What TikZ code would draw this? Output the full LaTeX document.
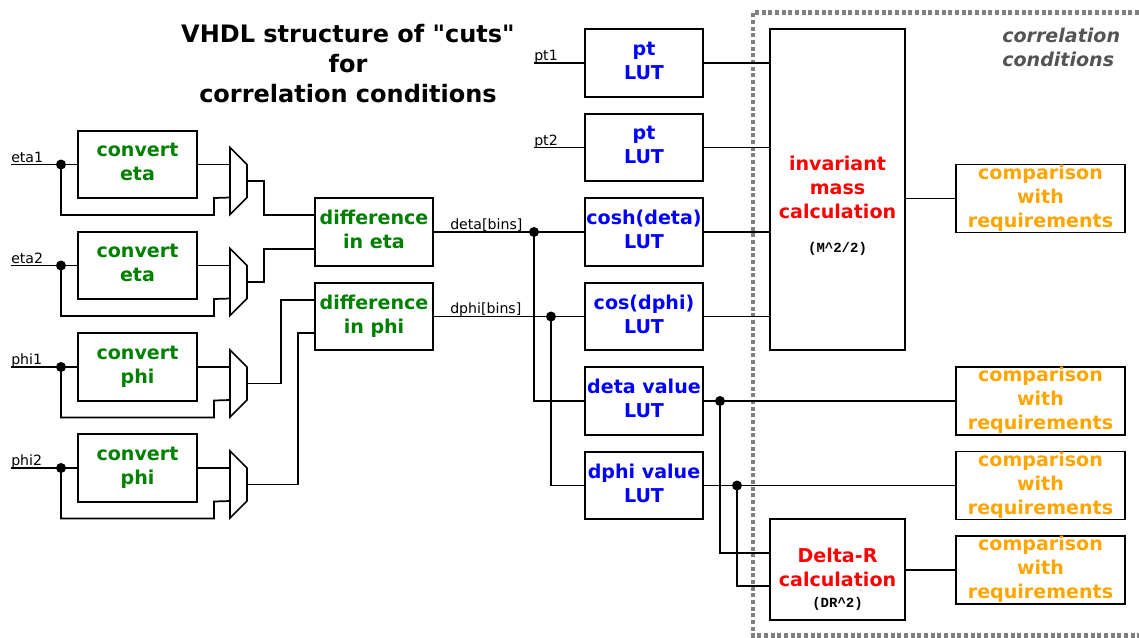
\documentclass[tikz,border=0pt]{standalone}
\usepackage{fontspec}
\setmainfont{DejaVu Sans}
\newfontfamily\titlefont{DejaVu Sans}
\newfontfamily\codefont{Liberation Mono}[BoldFont={Liberation Mono Bold}]
\definecolor{cmporange}{RGB}{255,165,0}
\definecolor{convgreen}{RGB}{0,128,0}
\begin{document}
\begin{tikzpicture}[x=0.75pt,y=-0.75pt,line join=miter,
  boldtext/.style={align=center,font=\fontsize{14.3}{18}\selectfont\bfseries,
     execute at begin node={\leavevmode\rule{0pt}{13pt}},
     execute at end node={\rule[-4pt]{0pt}{4pt}}},
  block/.style={draw=black,line width=1.3pt,fill=white,inner sep=0pt,outer sep=0pt,boldtext},
  conv/.style={block,text=convgreen,minimum width=89pt,minimum height=50.5pt},
  lut/.style={block,text=blue,minimum width=89pt,minimum height=50.5pt},
  calc/.style={block,text=red,minimum width=101.5pt},
  calctext/.style={inner sep=0pt,text=red,boldtext},
  cmp/.style={block,text=cmporange,minimum width=127pt,minimum height=50.5pt},
  wire/.style={draw=black,line width=1.3pt},
  muxshape/.style={draw=black,line width=1.3pt,fill=white},
  junction/.style={circle,fill=black,inner sep=0pt,minimum size=7.5pt,outer sep=0pt},
  sig/.style={inner sep=0pt,font=\fontsize{10.6}{12}\selectfont},
  small/.style={inner sep=0pt,font=\fontsize{10.5}{12}\selectfont\codefont\bfseries}]
\useasboundingbox (0,0) rectangle (1139,637);
% correlation region
\coordinate (rt) at (1139,12.5);
\coordinate (rc) at (753,12.5);
\coordinate (rb) at (753,635.5);
\coordinate (re) at (1139,635.5);
\draw[gray,line width=3.5pt,dash pattern=on 3pt off 2pt] (rt) -- (rc) -- (rb) -- (re);
\node[anchor=west,inner sep=0pt,align=left,text=black!67,font=\fontsize{14.3}{18}\selectfont\bfseries\itshape] (region) at (1002,47) {correlation\\conditions};
% title
\node[inner sep=0pt,align=center,font=\fontsize{18}{22.4}\selectfont\titlefont\bfseries] (title) at (348,63.5) {VHDL structure of "cuts"\\for\\correlation conditions};
% input conversion
\node[conv] (c1) at (137.5,164.5) {convert\\eta};
\node[conv] (c2) at (137.5,265.5) {convert\\eta};
\node[conv] (c3) at (137.5,367) {convert\\phi};
\node[conv] (c4) at (137.5,468) {convert\\phi};
% multiplexers
\foreach \n/\y in {1/147.5,2/248.5,3/350,4/451}{
  \draw[muxshape] (230,\y) -- (247,\y+17) -- (247,\y+50) -- (230,\y+67) -- cycle;
  \coordinate (m\n a) at (230,\y+17);
  \coordinate (m\n b) at (230,\y+50);
  \coordinate (m\n o) at (247,\y+33.5);
}
% inputs
\coordinate (i1) at (11,164.5);
\coordinate (i2) at (11,265.5);
\coordinate (i3) at (11,367);
\coordinate (i4) at (11,468);
\node[sig,anchor=base west] (l1) at (11,162) {eta1};
\node[sig,anchor=base west] (l2) at (11,263) {eta2};
\node[sig,anchor=base west] (l3) at (11,364.5) {phi1};
\node[sig,anchor=base west] (l4) at (11,465.5) {phi2};
\foreach \n/\y in {1/164.5,2/265.5,3/367,4/468}{
  \node[junction] (j\n) at (61,\y) {};
  \draw[wire] (i\n) -- (c\n.west);
  \draw[wire] (c\n.east) -- (m\n a);
  \draw[wire] (j\n.center) -- (61,\y+50.5) -- (214,\y+50.5) -- (214,\y+33.5) -- (m\n b);
}
% differences
\node[conv] (de) at (374,232) {difference\\in eta};
\node[conv] (dp) at (374,316.5) {difference\\in phi};
\draw[wire] (m1o) -- (264,181) -- (264,215) -- (de.west |- 0,215);
\draw[wire] (m2o) -- (264,282) -- (264,249) -- (de.west |- 0,249);
\draw[wire] (m3o) -- (281,383.5) -- (281,300) -- (dp.west |- 0,300);
\draw[wire] (m4o) -- (298,484.5) -- (298,333) -- (dp.west |- 0,333);
% LUTs
\node[lut] (l_pa) at (644,63) {pt\\LUT};
\node[lut] (l_pb) at (644,147.5) {pt\\LUT};
\node[lut] (l_ch) at (644,232) {cosh(deta)\\LUT};
\node[lut] (l_cs) at (644,316.5) {cos(dphi)\\LUT};
\node[lut] (l_dv) at (644,401) {deta value\\LUT};
\node[lut] (l_pv) at (644,485.5) {dphi value\\LUT};
\coordinate (pa) at (534,63);
\coordinate (pb) at (534,147.5);
\node[sig,anchor=base west] (lpa) at (534,60.5) {pt1};
\node[sig,anchor=base west] (lpb) at (534,145) {pt2};
\draw[wire] (pa) -- (l_pa.west);
\draw[wire] (pb) -- (l_pb.west);
\node[sig,anchor=base west] (lde) at (450,229) {deta[bins]};
\node[sig,anchor=base west] (ldp) at (450,313) {dphi[bins]};
\node[junction] (jde) at (534,232) {};
\node[junction] (jdp) at (551,316.5) {};
\draw[wire] (de.east) -- (l_ch.west);
\draw[wire] (dp.east) -- (l_cs.west);
\draw[wire] (jde.center) |- (l_dv.west);
\draw[wire] (jdp.center) |- (l_pv.west);
% calculations
\node[calc,minimum height=240.5pt] (inv) at (837.5,189.5) {};
\node[calctext] (invt) at (837.5,190) {invariant\\mass\\calculation};
\node[small] (invs) at (837.5,249) {(M\textasciicircum 2/2)};
\node[calc,minimum height=76pt] (dr) at (837.5,569.5) {};
\node[calctext] (drt) at (837.5,570) {Delta-R\\calculation};
\node[small] (drs) at (837.5,604) {(DR\textasciicircum 2)};
% comparisons
\node[cmp] (k1) at (1040.5,198.5) {comparison\\with\\requirements};
\node[cmp] (k2) at (1040.5,401) {comparison\\with\\requirements};
\node[cmp] (k3) at (1040.5,485.5) {comparison\\with\\requirements};
\node[cmp] (k4) at (1040.5,570) {comparison\\with\\requirements};
% right wires
\draw[wire] (l_pa.east) -- (inv.west |- l_pa.east);
\draw[wire] (l_pb.east) -- (inv.west |- l_pb.east);
\draw[wire] (l_ch.east) -- (inv.west |- l_ch.east);
\draw[wire] (l_cs.east) -- (inv.west |- l_cs.east);
\draw[wire] (inv.east |- k1.west) -- (k1.west);
\draw[wire] (dr.east |- k4.west) -- (k4.west);
\node[junction] (jdv) at (720,401) {};
\node[junction] (jpv) at (737,485.5) {};
\draw[wire] (l_dv.east) -- (k2.west);
\draw[wire] (l_pv.east) -- (k3.west);
\draw[wire] (jdv.center) |- (dr.west |- 0,553);
\draw[wire] (jpv.center) |- (dr.west |- 0,586);
\end{tikzpicture}
\end{document}
